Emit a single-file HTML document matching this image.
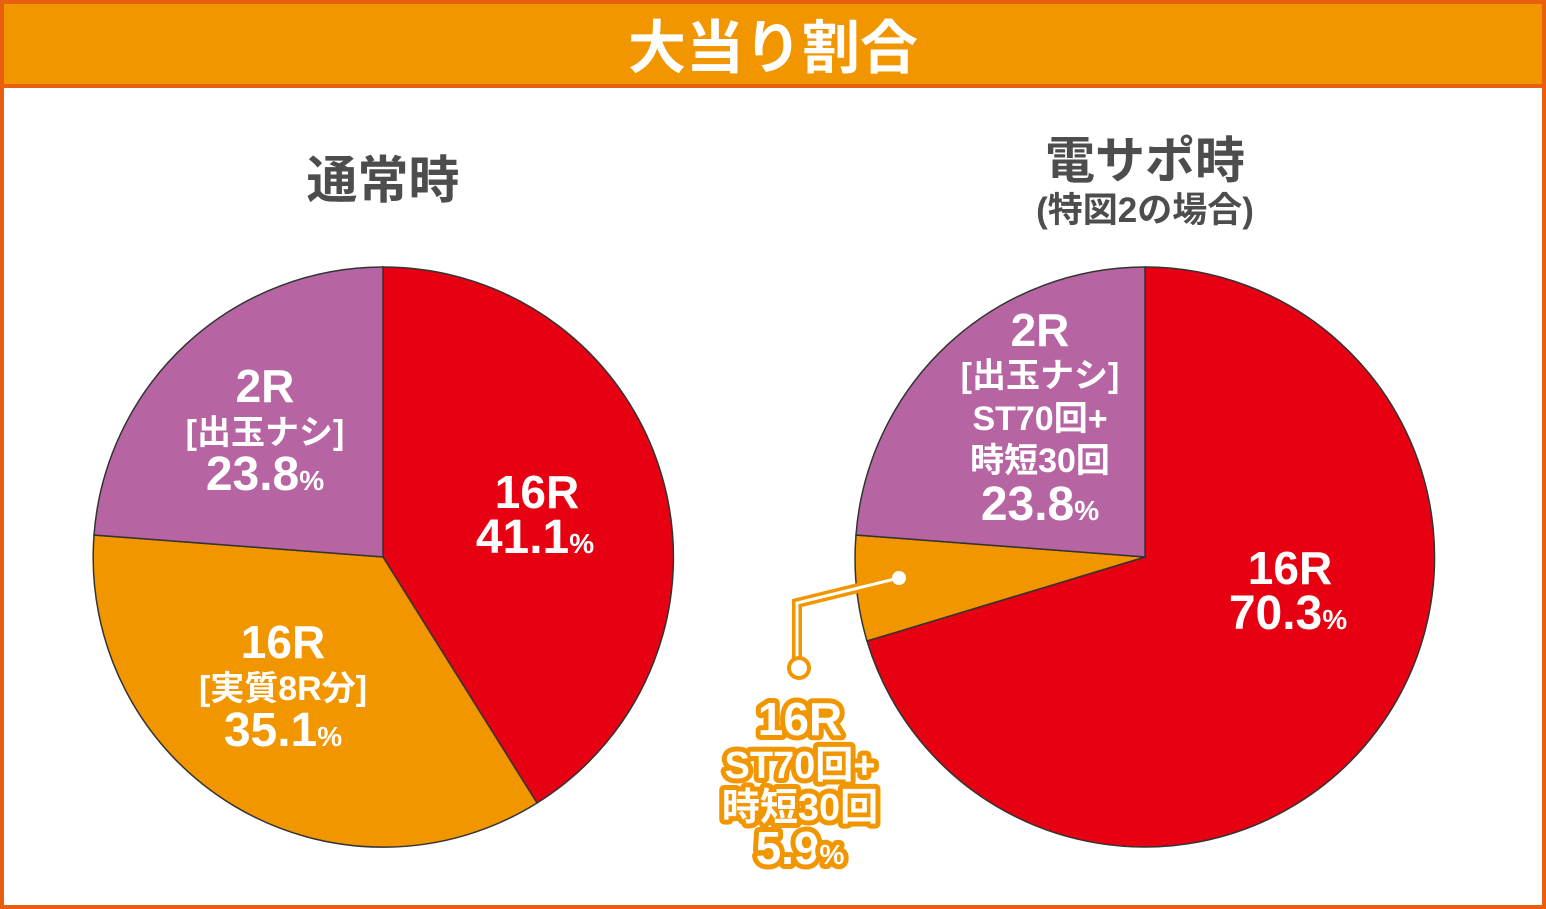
<!DOCTYPE html>
<html><head><meta charset="utf-8"><style>
html,body{margin:0;padding:0;background:#fff}
svg{display:block}
text{font-family:"Liberation Sans","Noto Sans CJK JP",sans-serif;font-weight:bold;text-anchor:middle}
</style></head><body>
<svg width="1546" height="909" viewBox="0 0 1546 909" xmlns="http://www.w3.org/2000/svg">
<rect x="2" y="2" width="1542" height="905" fill="#fff" stroke="#e8600f" stroke-width="4"/>
<rect x="2" y="2" width="1542" height="84" fill="#f29600" stroke="#e8600f" stroke-width="4"/>
<text x="773" y="68" font-size="58" fill="#fff">大当り割合</text>

<text x="383" y="198" font-size="51" fill="#4d4d4d">通常時</text>
<text x="1145" y="178" font-size="50" fill="#4d4d4d">電サポ時</text>
<text x="1145" y="222" font-size="35" fill="#4d4d4d">(特図2の場合)</text>

<g stroke="#333" stroke-width="1.5">
<path d="M383,557 L383,267 A290,290 0 0 1 537,803 Z" fill="#e60012"/>
<path d="M383,557 L537,803 A290,290 0 0 1 94,535 Z" fill="#f29600"/>
<path d="M383,557 L94,535 A290,290 0 0 1 383,267 Z" fill="#b764a3"/>

<path d="M1145,557 L1145,267 A290,290 0 1 1 867,641 Z" fill="#e60012"/>
<path d="M1145,557 L867,641 A290,290 0 0 1 856,535 Z" fill="#f29600"/>
<path d="M1145,557 L856,535 A290,290 0 0 1 1145,267 Z" fill="#b764a3"/>
</g>

<g fill="#fff">
<text x="537" y="508" font-size="46">16R</text>
<text x="535" y="553" font-size="48">41.1<tspan font-size="28">%</tspan></text>
<text x="265" y="402" font-size="46">2R</text>
<text x="265" y="444" font-size="34" font-weight="normal">[出玉ナシ]</text>
<text x="265" y="490" font-size="48">23.8<tspan font-size="28">%</tspan></text>
<text x="283" y="658" font-size="46">16R</text>
<text x="283" y="700" font-size="34" font-weight="normal">[実質8R分]</text>
<text x="283" y="746" font-size="48">35.1<tspan font-size="28">%</tspan></text>

<text x="1040" y="346" font-size="46">2R</text>
<text x="1040" y="387" font-size="34" font-weight="normal">[出玉ナシ]</text>
<text x="1040" y="430" font-size="34" font-weight="normal">ST70回+</text>
<text x="1040" y="472" font-size="34" font-weight="normal">時短30回</text>
<text x="1040" y="520" font-size="48">23.8<tspan font-size="28">%</tspan></text>
<text x="1290" y="584" font-size="46">16R</text>
<text x="1288" y="629" font-size="48">70.3<tspan font-size="28">%</tspan></text>
</g>

<polyline points="899,578 797,603 797,660" fill="none" stroke="#f29600" stroke-width="10"/>
<polyline points="899,578 797,603 797,660" fill="none" stroke="#fff" stroke-width="3"/>
<circle cx="899" cy="578" r="7" fill="#fff"/>
<circle cx="799" cy="668" r="10" fill="#fff" stroke="#f29600" stroke-width="4"/>

<g fill="#fff" stroke="#f29600" stroke-width="10" stroke-linejoin="round" style="paint-order:stroke">
<text x="800" y="735" font-size="46">16R</text>
<text x="800" y="778" font-size="38">ST70回+</text>
<text x="800" y="820" font-size="38">時短30回</text>
<text x="800" y="864" font-size="46">5.9<tspan font-size="28">%</tspan></text>
</g>
</svg>
</body></html>
